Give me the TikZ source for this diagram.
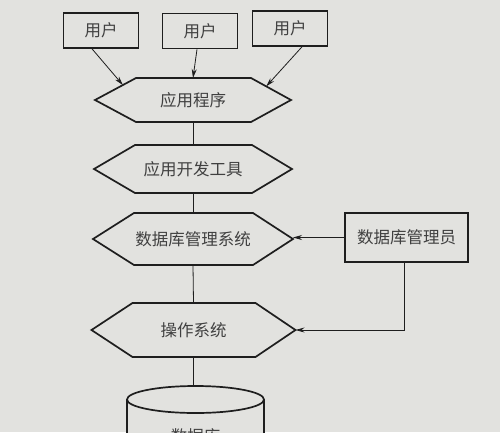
\documentclass[tikz,border=0pt]{standalone}
\usepackage{fontspec}
\newfontfamily\cjk{Noto Sans CJK SC}
\usetikzlibrary{arrows.meta,calc}
\definecolor{paper}{RGB}{226,226,223}
\definecolor{ink}{RGB}{30,30,30}
\tikzset{
  hexline/.style={draw=ink,line width=1.7pt,line join=miter},
  boxline/.style={draw=ink,line width=1.6pt,minimum width=75pt,minimum height=35pt,inner sep=0pt,font=\cjk\fontsize{16.5}{16.5}\selectfont,text=ink!85},
  label/.style={font=\cjk\fontsize{16.5}{16.5}\selectfont,text=ink!85,inner sep=0pt},
  conn/.style={draw=ink,line width=0.8pt},
  arr/.style={conn,-{Stealth[length=9pt,width=5pt]}}
}
% name, cx, cy, half width, half height, text
\newcommand\hexa[6]{%
  \node[label] (#1) at (#2,#3) {#6};
  \coordinate (#1-W) at ({#2-#4},#3);
  \coordinate (#1-E) at ({#2+#4},#3);
  \coordinate (#1-NW) at ({#2-#4+41},{#3-#5});
  \coordinate (#1-NE) at ({#2+#4-40},{#3-#5});
  \coordinate (#1-SW) at ({#2-#4+41},{#3+#5});
  \coordinate (#1-SE) at ({#2+#4-40},{#3+#5});
  \coordinate (#1-N) at (#2,{#3-#5});
  \coordinate (#1-S) at (#2,{#3+#5});
  \draw[hexline] (#1-W) -- (#1-NW) -- (#1-NE) -- (#1-E) -- (#1-SE) -- (#1-SW) -- cycle;
}
\begin{document}
\begin{tikzpicture}[x=1pt,y=-1pt]
\useasboundingbox (0,0) rectangle (500,432);
\fill[paper] (0,0) rectangle (500,432);
\clip (0,0) rectangle (500,432);

% users
\node[boxline] (u1) at (101,30.5) {用户};
\node[boxline] (u2) at (200,31) {用户};
\node[boxline] (u3) at (290,28.5) {用户};

% hexagons
\hexa{app}{193}{100}{98}{22}{应用程序}
\hexa{tool}{193}{169}{99}{24}{应用开发工具}
\hexa{dbms}{193}{239}{100}{26}{数据库管理系统}
\hexa{os}{193.5}{330}{102}{27}{操作系统}

% DBA box
\node[boxline,minimum width=123pt,minimum height=49pt] (dba) at (406.5,237.5) {数据库管理员};

% database cylinder
\coordinate (db-N) at (193.5,386);
\fill[paper] (127,399.5) -- (127,470) -- (264,470) -- (264,399.5) -- cycle;
\draw[draw=ink,line width=1.7pt] (127,399.5) -- (127,470);
\draw[draw=ink,line width=1.7pt] (264,399.5) -- (264,470);
\draw[draw=ink,line width=1.7pt] (195.5,399.5) ellipse [x radius=68.5, y radius=13.5];
\node[label] (db) at (195.5,436) {数据库};

% connectors
\coordinate (a1) at ($(app-W)!0.68!(app-NW)$);
\coordinate (a3) at ($(app-E)!0.62!(app-NE)$);
\draw[arr] ([xshift=-9pt]u1.south) -- (a1);
\draw[arr] ([xshift=-3pt]u2.south) -- (app-N);
\draw[arr] ([xshift=12pt]u3.south) -- (a3);
\draw[conn] (app-S) -- (tool-N);
\draw[conn] (tool-S) -- (dbms-N);
\draw[conn] (dbms-S) -- (os-N);
\draw[conn] (os-S) -- (db-N);
\draw[arr] (dba.west) -- (dbms-E |- dba.west);
\draw[arr] ([xshift=-2.5pt]dba.south) |- (os-E);
\end{tikzpicture}
\end{document}
